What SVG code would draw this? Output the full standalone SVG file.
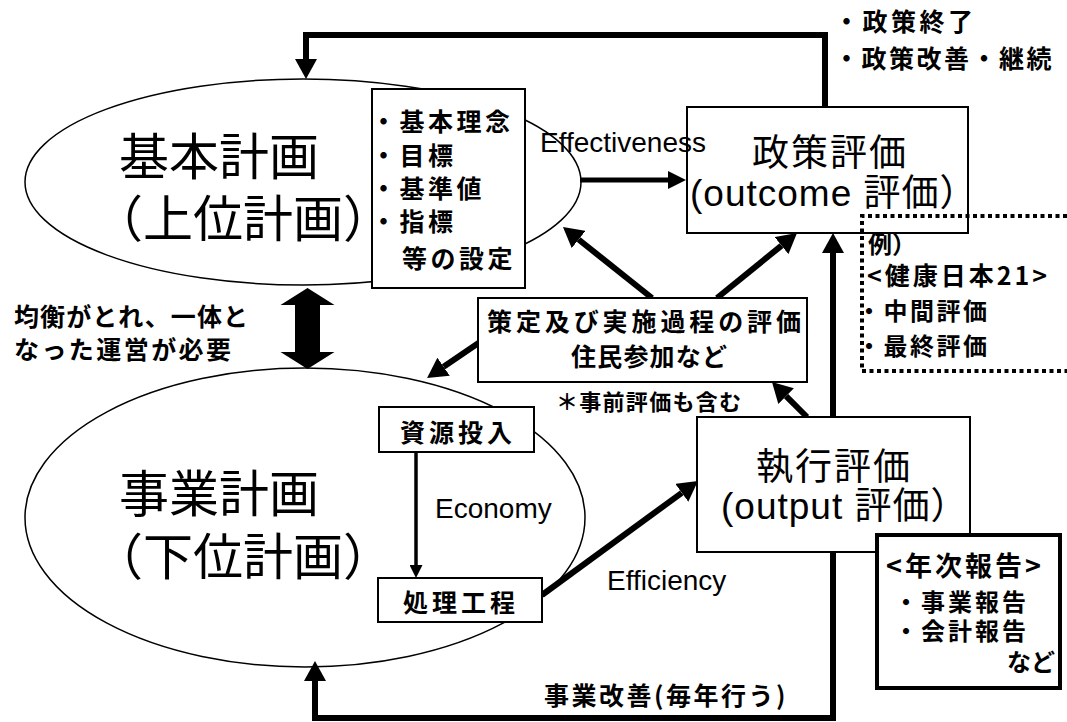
<svg xmlns="http://www.w3.org/2000/svg" width="1067" height="722" viewBox="0 0 1067 722">
<style>
.bg{fill:#fff}
.ell{fill:#fff;stroke:#000;stroke-width:1.5}
.box{fill:#fff;stroke:#000;stroke-width:2}
.boxb{fill:#fff;stroke:#000;stroke-width:4}
.dot{fill:none;stroke:#000;stroke-width:4;stroke-dasharray:4 3.5}
.thick{fill:none;stroke:#000;stroke-width:6}
.med{fill:none;stroke:#000;stroke-width:5}
.thin{fill:none;stroke:#000;stroke-width:3.5}
text{fill:#000}
.big{font-family:"Noto Sans CJK JP",sans-serif;font-size:50px}
.mid{font-family:"Liberation Sans","Noto Sans CJK JP",sans-serif;font-size:37px}
.b25{font-family:"Noto Sans CJK JP",sans-serif;font-weight:bold;font-size:25px;letter-spacing:3.5px}
.b24{font-family:"Noto Sans CJK JP",sans-serif;font-weight:bold;font-size:24px;letter-spacing:3px}
.b{font-family:"Noto Sans CJK JP",sans-serif;font-weight:bold}
.en{font-family:"Liberation Sans",Arial,sans-serif;font-size:28px}
</style>
<defs>
<marker id="ah" markerUnits="userSpaceOnUse" markerWidth="20" markerHeight="22" viewBox="0 0 20 22" refX="0" refY="11" orient="auto-start-reverse"><path d="M0,0 L20,11 L0,22 Z" fill="#000"/></marker>
<marker id="ahm" markerUnits="userSpaceOnUse" markerWidth="18" markerHeight="18" viewBox="0 0 18 18" refX="0" refY="9" orient="auto"><path d="M0,0 L18,9 L0,18 Z" fill="#000"/></marker>
<marker id="ahs" markerUnits="userSpaceOnUse" markerWidth="13" markerHeight="13" viewBox="0 0 13 13" refX="0" refY="6.5" orient="auto"><path d="M0,0 L13,6.5 L0,13 Z" fill="#000"/></marker>
</defs>
<rect class="bg" x="0" y="0" width="1067" height="722"/>

<g id="kihon-keikaku">
<ellipse class="ell" cx="303" cy="182" rx="278" ry="103"/>
<text class="big" x="119" y="175">基本計画</text>
<text class="big" x="93" y="237">（上位計画）</text>
</g>

<g id="jigyo-keikaku">
<ellipse class="ell" cx="305" cy="517.5" rx="280" ry="149.5"/>
<text class="big" x="119" y="512">事業計画</text>
<text class="big" x="93" y="575">（下位計画）</text>
</g>

<g id="connectors">
<path class="thick" d="M825,107 V35 H306 V59" marker-end="url(#ah)"/>
<path class="med" d="M580,180 H668" marker-end="url(#ahm)"/>
<path class="thick" d="M652,298 L578.6,239.5" marker-end="url(#ah)"/>
<path class="thick" d="M717,298 L781.5,245.6" marker-end="url(#ah)"/>
<path class="thick" d="M480,342 L443.6,366.75" marker-end="url(#ah)"/>
<path class="thick" d="M807,417 L786.1,396.1" marker-end="url(#ah)"/>
<path class="thick" d="M833,253 V718 H315 V681" marker-start="url(#ah)" marker-end="url(#ah)"/>
<path class="thin" d="M416,452 V565" marker-end="url(#ahs)"/>
<path class="thick" d="M542,595 L681.8,492.8" marker-end="url(#ah)"/>
<polygon points="307.5,288 334.5,305 320,305 320,352 334.5,352 307.5,369 280.5,352 295,352 295,305 280.5,305" fill="#000"/>
</g>

<g id="kihon-items">
<rect class="box" x="372" y="89" width="153" height="199"/>
<text class="b25" x="371" y="131">・基本理念</text>
<text class="b25" x="371" y="165">・目標</text>
<text class="b25" x="371" y="198">・基準値</text>
<text class="b25" x="371" y="231">・指標</text>
<text class="b25" x="402" y="268">等の設定</text>
</g>

<g id="seisaku-hyoka">
<rect class="box" x="687" y="107" width="281" height="126"/>
<text class="mid" x="752" y="166" style="letter-spacing:2px">政策評価</text>
<text class="mid" x="690" y="206" style="letter-spacing:1px">(outcome 評価）</text>
</g>

<g id="seisaku-notes">
<text class="b25" x="834" y="31">・政策終了</text>
<text class="b25" x="834" y="68" style="letter-spacing:2.5px">・政策改善・継続</text>
</g>

<g id="example-box">
<path class="dot" d="M1067,216 H862 V371 H1067"/>
<text class="b" x="868" y="253" font-size="24">例）</text>
<text class="b" x="867" y="285" font-size="25" style="letter-spacing:3px">&lt;健康日本21&gt;</text>
<text class="b24" x="857" y="320" style="letter-spacing:2.5px">・中間評価</text>
<text class="b24" x="857" y="355" style="letter-spacing:2.5px">・最終評価</text>
</g>

<g id="balance-note">
<text class="b" x="14" y="326" font-size="25" textLength="234" lengthAdjust="spacing">均衡がとれ、一体と</text>
<text class="b" x="14" y="359" font-size="25" textLength="217" lengthAdjust="spacing">なった運営が必要</text>
</g>

<g id="process-eval">
<rect class="box" x="478" y="298" width="329" height="84"/>
<text class="b" x="487" y="331" font-size="25" textLength="314" lengthAdjust="spacing">策定及び実施過程の評価</text>
<text class="b" x="571" y="366" font-size="25" textLength="156" lengthAdjust="spacing">住民参加など</text>
<text class="b" x="556" y="410" font-size="22" textLength="185" lengthAdjust="spacing">＊事前評価も含む</text>
</g>

<g id="shigen-tonyu">
<rect class="box" x="379" y="407" width="155" height="45"/>
<text class="b25" x="400" y="442" style="letter-spacing:4px">資源投入</text>
</g>

<g id="shori-kotei">
<rect class="box" x="378" y="578" width="164" height="44"/>
<text class="b25" x="403" y="612" style="letter-spacing:4px">処理工程</text>
</g>

<g id="shikko-hyoka">
<rect class="box" x="697" y="417" width="273" height="135"/>
<text class="mid" x="756" y="480" style="letter-spacing:2px">執行評価</text>
<text class="mid" x="721" y="519" style="letter-spacing:1px">(output 評価）</text>
</g>

<g id="nenji-hokoku">
<rect class="boxb" x="877" y="535" width="183" height="153"/>
<text class="b" x="886" y="576" font-size="27" style="letter-spacing:3px">&lt;年次報告&gt;</text>
<text class="b24" x="894" y="611">・事業報告</text>
<text class="b24" x="894" y="640">・会計報告</text>
<text class="b" x="1007" y="671" font-size="24">など</text>
</g>

<g id="jigyo-kaizen">
<text class="b" x="544" y="705" font-size="25" style="letter-spacing:2.5px">事業改善(毎年行う)</text>
</g>

<g id="connector-labels">
<text class="en" x="540" y="152">Effectiveness</text>
<text class="en" x="435" y="518">Economy</text>
<text class="en" x="607" y="590">Efficiency</text>
</g>
</svg>
